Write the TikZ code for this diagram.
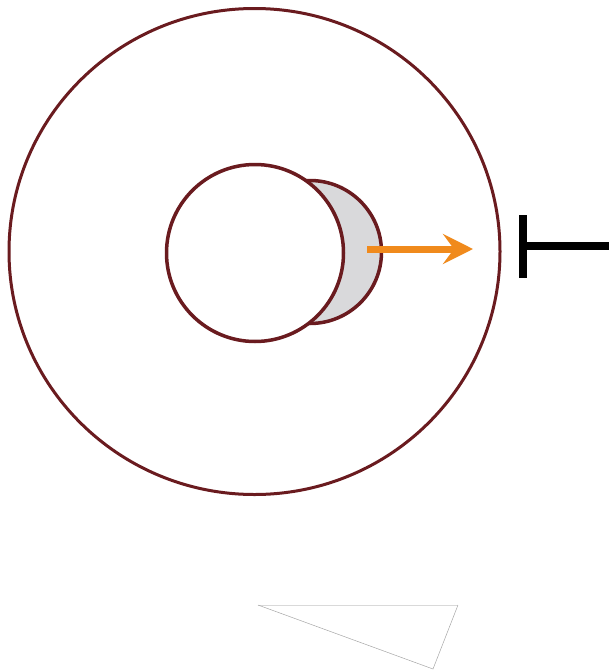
\documentclass[tikz,border=0pt]{standalone}
\usepackage{tikz}
\usetikzlibrary{arrows.meta, positioning, shapes.geometric, shadows}
\definecolor{cwall}{HTML}{6A1B1F}
\definecolor{corange}{HTML}{F08A1C}
\definecolor{cbud}{HTML}{D9D9DB}
\tikzset{
  x=1pt, y=-1pt,
  wall/.style={
    draw=cwall, line width=#1, fill=white, inner sep=0pt, outer sep=0pt
  },
  wall/.default=3pt,
  push/.style={-{Stealth[length=30pt, width=30pt, inset=11pt]}, line width=7pt, draw=corange},
  block/.style={line width=8pt, draw=black, drop shadow={opacity=0.25, shadow xshift=1pt, shadow yshift=-1pt}},
  sliver/.style={draw=black!35, line width=0.5pt}
}
\begin{document}
\begin{tikzpicture}
  \useasboundingbox (0,0) rectangle (609,672);
  % cell outline
  \node[wall, ellipse, minimum width=491pt, minimum height=486pt] (cell) at (254.5,251.5) {};
  % bulge behind the nucleus
  \node[wall=3.5pt, circle, fill=cbud, minimum size=143pt] (bud) at (310,252) {};
  \node[wall=3.5pt, circle, minimum size=177pt] (core) at (255,253) {};
  % growth direction and block
  \coordinate (pushstart) at (367,249);
  \coordinate (pushend) at (473,249);
  \draw[push] (pushstart) -- (pushend);
  \coordinate (bartop) at (523,215);
  \coordinate (barbot) at (523,278);
  \coordinate (barmid) at (523,246);
  \coordinate (barend) at (609,246);
  \draw[block] (barmid) -- (barend);
  \draw[block] (bartop) -- (barbot);
  % stray sliver at the bottom
  \coordinate (sla) at (258,605);
  \coordinate (slb) at (458,605);
  \coordinate (slc) at (433,669);
  \draw[sliver, draw=black!15] (sla) -- (slb);
  \draw[sliver] (slb) -- (slc) -- (sla);
\end{tikzpicture}
\end{document}
